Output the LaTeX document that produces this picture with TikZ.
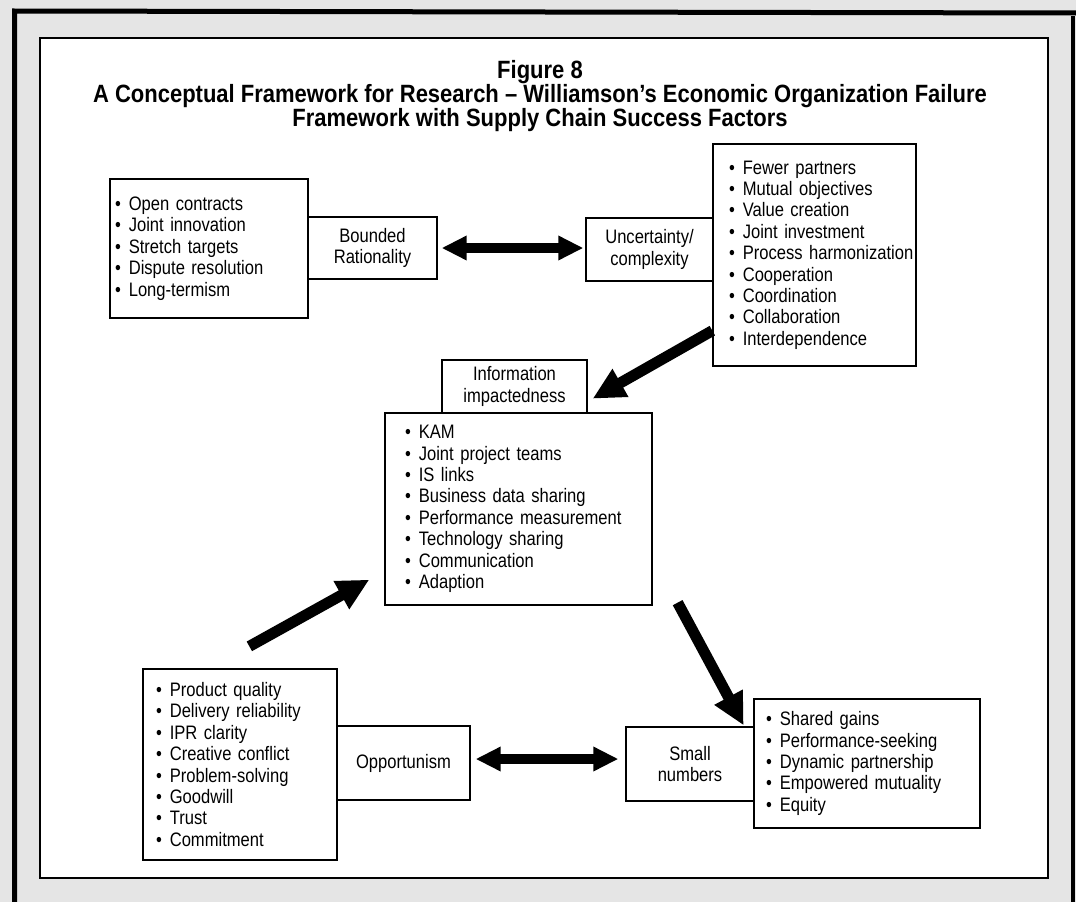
\documentclass[tikz,border=0pt]{standalone}
\usepackage{fontspec}
\setmainfont{Liberation Sans}
\newfontfamily\bodyfam{Liberation Sans}[FakeStretch=0.85]
\newfontfamily\titlefam{Liberation Sans}[FakeStretch=0.88]
\usetikzlibrary{arrows.meta,calc}
% bullet item with a left indent given in pt
\newcommand\litem[2]{\hspace*{#1pt}\textbullet\hspace{8pt}#2}
\newcommand\bodyfont{\bodyfam\fontsize{19.5}{21.4}\selectfont}
\newcommand\titlefont{\titlefam\bfseries\fontsize{25}{22}\selectfont}

\begin{document}
\begin{tikzpicture}[x=1pt,y=-1pt,
  box/.style={draw=black, line width=1.3pt, fill=white, inner sep=0pt},
  listbox/.style={box, align=left, font=\bodyfont},
  labelbox/.style={box, align=center, font=\bodyfont},
  flow/.style={line width=11pt, -{Triangle[length=32pt,width=30pt]}},
  link/.style={line width=10pt, {Triangle[length=25pt,width=23pt]}-{Triangle[length=25pt,width=23pt]}}]

\useasboundingbox (0,0) rectangle (1076,902);

% page frame
\fill[black!10] (0,0) rectangle (1076,902);
\draw[line width=5pt] (14.5,902) -- (14.5,11) -- (1076,13);
\draw[line width=3.5pt] (1073,16) -- (1073,902);
\draw[line width=2pt, fill=white] (40,38) rectangle (1048,878);

% title
\node[font=\titlefont, align=center] (title) at (540,96)
  {Figure 8\\A Conceptual Framework for Research – Williamson’s Economic Organization Failure\\Framework with Supply Chain Success Factors};

% top row
\node[listbox, text width=198pt, minimum height=139pt] (tl) at (209,248.5)
  {\litem{5}{Open contracts}\\\litem{5}{Joint innovation}\\\litem{5}{Stretch targets}\\\litem{5}{Dispute resolution}\\\litem{5}{Long-termism}};
\node[labelbox, minimum width=129pt, minimum height=62pt] (bounded) at (372.5,248)
  {Bounded\\Rationality};
\node[labelbox, minimum width=127pt, minimum height=63pt] (uncert) at (649.5,249.5)
  {Uncertainty/\\complexity};
\node[listbox, text width=203pt, minimum height=222pt] (tr) at (814.5,255)
  {\litem{16}{Fewer partners}\\\litem{16}{Mutual objectives}\\\litem{16}{Value creation}\\\litem{16}{Joint investment}\\\litem{16}{Process harmonization}\\\litem{16}{Cooperation}\\\litem{16}{Coordination}\\\litem{16}{Collaboration}\\\litem{16}{Interdependence}};

% middle
\node[labelbox, minimum width=145pt, minimum height=53pt] (info) at (514.5,386.5)
  {Information\\impactedness};
\node[listbox, text width=267pt, minimum height=192pt] (mid) at (518.5,509)
  {\litem{20}{KAM}\\\litem{20}{Joint project teams}\\\litem{20}{IS links}\\\litem{20}{Business data sharing}\\\litem{20}{Performance measurement}\\\litem{20}{Technology sharing}\\\litem{20}{Communication}\\\litem{20}{Adaption}};

% bottom row
\node[listbox, text width=194pt, minimum height=191pt] (bl) at (240,764.5)
  {\litem{13}{Product quality}\\\litem{13}{Delivery reliability}\\\litem{13}{IPR clarity}\\\litem{13}{Creative conflict}\\\litem{13}{Problem-solving}\\\litem{13}{Goodwill}\\\litem{13}{Trust}\\\litem{13}{Commitment}};
\node[labelbox, minimum width=133pt, minimum height=74pt] (opp) at (403.5,763)
  {Opportunism};
\node[labelbox, minimum width=128pt, minimum height=74pt] (small) at (690,764)
  {Small\\numbers};
\node[listbox, text width=226pt, minimum height=129pt] (br) at (867,763.5)
  {\litem{12}{Shared gains}\\\litem{12}{Performance-seeking}\\\litem{12}{Dynamic partnership}\\\litem{12}{Empowered mutuality}\\\litem{12}{Equity}};

% connectors
\draw[link] ([xshift=4pt]bounded.east) -- ([xshift=-2pt]uncert.west |- bounded.east);
\draw[link] ([xshift=5pt,yshift=4pt]opp.east) -- ([xshift=-7pt,yshift=4pt]opp.east -| small.west);
\draw[flow] ($(tr.south west)+(0,-36)$) -- ($(info.south east)+(5,-15)$);
\draw[flow] ($(bl.north west)+(107,-22)$) -- ($(mid.south west)+(-15,-26)$);
\draw[flow] ($(mid.south east)+(25,-3)$) -- ($(small.north east)+(-11,-1)$);
\end{tikzpicture}
\end{document}
